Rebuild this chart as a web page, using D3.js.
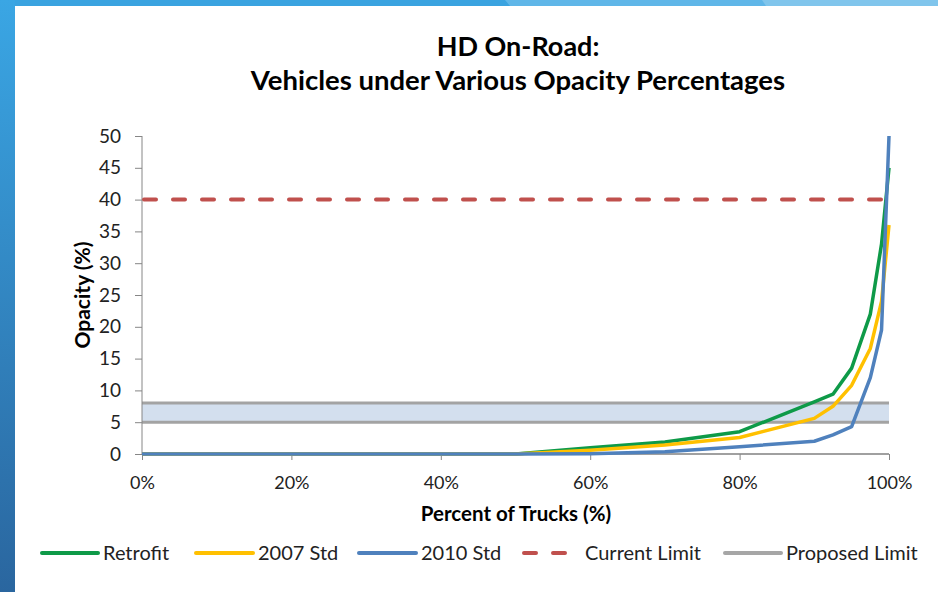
<!DOCTYPE html>
<html><head><meta charset="utf-8">
<script src="https://cdn.jsdelivr.net/npm/d3@7"></script>
<style>body{margin:0;background:#fff}svg{display:block}</style>
</head><body>
<svg id="c" width="938" height="592"></svg>
<script>
const pctTrucks = [0, 10, 20, 30, 40, 50, 60, 70, 80, 90, 92.5, 95, 97.5, 99, 100];
const retrofit  = [0, 0, 0, 0, 0, 0, 1.0, 1.9, 3.5, 8.2, 9.4, 13.5, 22, 33, 45];
const std2007   = [0, 0, 0, 0, 0, 0, 0.6, 1.4, 2.6, 5.6, 7.5, 10.8, 16.6, 24, 36];
const std2010   = [0, 0, 0, 0, 0, 0, 0.05, 0.35, 1.15, 2.0, 3.0, 4.3, 12, 19.5, 50];
const currentLimit = 40;
const proposedLimit = [5, 8];
const yTicks = [0, 5, 10, 15, 20, 25, 30, 35, 40, 45, 50];
const xTicks = [0, 20, 40, 60, 80, 100];
const seriesNames = ["Retrofit", "2007 Std", "2010 Std", "Current Limit", "Proposed Limit"];

const svg = d3.select("#c");
const font = "Lato, 'Open Sans', sans-serif";

// frame
const defs = svg.append("defs");
const lg = defs.append("linearGradient").attr("id","lb").attr("x1",0).attr("y1",0).attr("x2",0).attr("y2",1);
lg.append("stop").attr("offset","0%").attr("stop-color","#3AA6E4");
lg.append("stop").attr("offset","100%").attr("stop-color","#2A669F");
svg.append("rect").attr("x",0).attr("y",0).attr("width",938).attr("height",592).attr("fill","#fff");
svg.append("rect").attr("x",0).attr("y",0).attr("width",938).attr("height",6).attr("fill","#3AA3E0");
svg.append("path").attr("d","M505,0 L938,0 L938,6 L510,6 Z").attr("fill","#5FB6E8");
svg.append("path").attr("d","M762,0 L938,0 L938,6 L766,6 Z").attr("fill","#80C5EC");
svg.append("rect").attr("x",0).attr("y",0).attr("width",15).attr("height",592).attr("fill","url(#lb)");

const x = d3.scaleLinear().domain([0,100]).range([142,889]);
const y = d3.scaleLinear().domain([0,50]).range([454,136]);

// title
svg.append("text").attr("x",518).attr("y",56).attr("text-anchor","middle")
  .attr("font-family",font).attr("font-weight","bold").attr("font-size",27).attr("fill","#000").text("HD On-Road:");
svg.append("text").attr("x",518).attr("y",90).attr("text-anchor","middle")
  .attr("font-family",font).attr("font-weight","bold").attr("font-size",27.5).attr("fill","#000").text("Vehicles under Various Opacity Percentages");

// proposed band
svg.append("rect").attr("x",x(0)).attr("width",x(100)-x(0))
  .attr("y",y(proposedLimit[1])).attr("height",y(proposedLimit[0])-y(proposedLimit[1]))
  .attr("fill","#D3DFEE");
proposedLimit.forEach(v=>{
  svg.append("line").attr("x1",x(0)).attr("x2",x(100)).attr("y1",y(v)).attr("y2",y(v))
    .attr("stroke","#A3A3A3").attr("stroke-width",3);
});

// axes
const yAxis = d3.axisLeft(y).tickValues(yTicks).tickSize(7).tickPadding(14);
const gy = svg.append("g").attr("transform",`translate(${x(0)},0)`).call(yAxis);
gy.select(".domain").attr("stroke","#868686").attr("d",`M0,${y(0)}V${y(50)}`);
gy.selectAll(".tick line").attr("stroke","#868686");
gy.selectAll(".tick text").attr("font-family",font).attr("font-size",19).attr("fill","#222");

const xAxis = d3.axisBottom(x).tickValues(xTicks).tickSize(6).tickPadding(16).tickFormat(d=>d+"%");
const gx = svg.append("g").attr("transform",`translate(0,${y(0)})`).call(xAxis);
gx.select(".domain").attr("stroke","#A0A0A0").attr("stroke-width",2).attr("d",`M${x(0)},0H${x(100)}`);
gx.selectAll(".tick line").attr("stroke","#868686");
gx.selectAll(".tick text").attr("font-family",font).attr("font-size",18).attr("fill","#222");

svg.append("text").attr("x",516).attr("y",521).attr("text-anchor","middle")
  .attr("font-family",font).attr("font-weight","bold").attr("font-size",20.5).text("Percent of Trucks (%)");
svg.append("text").attr("transform","translate(90,295) rotate(-90)").attr("text-anchor","middle")
  .attr("font-family",font).attr("font-weight","bold").attr("font-size",21).text("Opacity (%)");

// current limit
svg.append("line").attr("x1",x(0)).attr("x2",x(100)).attr("y1",y(currentLimit)).attr("y2",y(currentLimit))
  .attr("stroke","#C0504D").attr("stroke-width",4).attr("stroke-dasharray","12,17").attr("stroke-linecap","round")
  .attr("stroke-dashoffset",-2);

// series
const line = d3.line().x(d=>x(d[0])).y(d=>y(d[1]));
const series = [
  {name:seriesNames[0], vals:retrofit, color:"#0E9A48"},
  {name:seriesNames[1], vals:std2007, color:"#FFC000"},
  {name:seriesNames[2], vals:std2010, color:"#4F81BD"}
];
series.forEach(s=>{
  svg.append("path").attr("d",line(pctTrucks.map((p,i)=>[p,s.vals[i]])))
    .attr("fill","none").attr("stroke",s.color).attr("stroke-width",3.5).attr("stroke-linejoin","round");
});

// legend
const leg = [
  {x1:42,x2:98,tx:103,color:"#0E9A48",dash:null},
  {x1:196,x2:253,tx:258,color:"#FFC000",dash:null},
  {x1:359,x2:416,tx:421,color:"#4F81BD",dash:null},
  {x1:524,x2:566,tx:585,color:"#C0504D",dash:"12,17"},
  {x1:725,x2:781,tx:786,color:"#A6A6A6",dash:null}
];
leg.forEach((l,i)=>{
  const ln = svg.append("line").attr("x1",l.x1).attr("x2",l.x2).attr("y1",553).attr("y2",553)
    .attr("stroke",l.color).attr("stroke-width",4).attr("stroke-linecap","round");
  if(l.dash) ln.attr("stroke-dasharray",l.dash);
  svg.append("text").attr("x",l.tx).attr("y",560).attr("font-family",font).attr("font-size",20)
    .attr("fill","#222").text(seriesNames[i]);
});
</script>
</body></html>
